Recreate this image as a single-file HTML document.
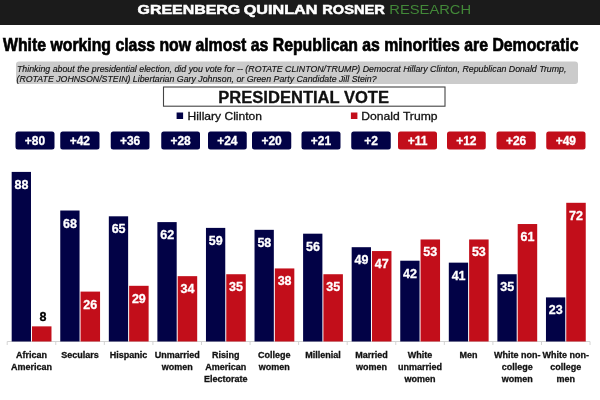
<!DOCTYPE html><html><head><meta charset="utf-8"><style>
html,body{margin:0;padding:0;background:#fff;width:600px;height:400px;overflow:hidden}
svg{display:block;will-change:transform}
text{font-family:"Liberation Sans",sans-serif}
</style></head><body>
<svg width="600" height="400" viewBox="0 0 600 400">
<rect x="0" y="0" width="600" height="25" fill="#1b1b1b"/>

<text x="137.6" y="14" font-size="12.3" font-weight="bold" fill="#ffffff" stroke="#ffffff" stroke-width="0.5" textLength="102.6" lengthAdjust="spacingAndGlyphs">GREENBERG</text>
<text x="243.8" y="14" font-size="12.3" font-weight="bold" fill="#ffffff" stroke="#ffffff" stroke-width="0.5" textLength="73.5" lengthAdjust="spacingAndGlyphs">QUINLAN</text>
<text x="322.3" y="14" font-size="12.3" font-weight="bold" fill="#ffffff" stroke="#ffffff" stroke-width="0.5" textLength="62.6" lengthAdjust="spacingAndGlyphs">ROSNER</text>
<text x="389.3" y="14" font-size="12.3" font-weight="normal" fill="#428838" stroke="#428838" stroke-width="0.0" textLength="81.8" lengthAdjust="spacingAndGlyphs">RESEARCH</text>
<text x="3" y="51" font-size="19" font-weight="bold" fill="#000" stroke="#000" stroke-width="0.7" textLength="575.5" lengthAdjust="spacingAndGlyphs">White working class now almost as Republican as minorities are Democratic</text>
<rect x="16" y="61.5" width="562" height="22.5" rx="3" fill="#cbcbcb"/>
<text x="17" y="71.5" font-size="9" font-style="italic" fill="#111" stroke="#111" stroke-width="0.15" textLength="549.4" lengthAdjust="spacingAndGlyphs">Thinking about the presidential election, did you vote for -- (ROTATE CLINTON/TRUMP) Democrat Hillary Clinton, Republican Donald Trump,</text>
<text x="16.5" y="82" font-size="9" font-style="italic" fill="#111" stroke="#111" stroke-width="0.15" textLength="360.1" lengthAdjust="spacingAndGlyphs">(ROTATE JOHNSON/STEIN) Libertarian Gary Johnson, or Green Party Candidate Jill Stein?</text>
<rect x="163.5" y="87" width="281.5" height="19.2" fill="#fff" stroke="#444" stroke-width="1.1"/>
<text x="218.3" y="102.5" font-size="16" font-weight="bold" fill="#111" stroke="#111" stroke-width="0.3" textLength="170.7" lengthAdjust="spacingAndGlyphs">PRESIDENTIAL VOTE</text>
<rect x="176.6" y="112.5" width="6.5" height="6.5" fill="#020246"/>
<text x="187.6" y="119.6" font-size="11.5" fill="#111" stroke="#111" stroke-width="0.3" textLength="74.4" lengthAdjust="spacingAndGlyphs">Hillary Clinton</text>
<rect x="350.9" y="112.5" width="6.5" height="6.5" fill="#c20e1a"/>
<text x="361.3" y="119.6" font-size="11.5" fill="#111" stroke="#111" stroke-width="0.3" textLength="76.2" lengthAdjust="spacingAndGlyphs">Donald Trump</text>
<rect x="15.5" y="131.5" width="39.00" height="18" rx="2.5" fill="#020246"/>
<text x="35.00" y="145" font-size="12" font-weight="bold" fill="#fff" stroke="#fff" stroke-width="0.3" text-anchor="middle">+80</text>
<rect x="60.25" y="131.5" width="39.25" height="18" rx="2.5" fill="#020246"/>
<text x="79.88" y="145" font-size="12" font-weight="bold" fill="#fff" stroke="#fff" stroke-width="0.3" text-anchor="middle">+42</text>
<rect x="110.75" y="131.5" width="38.75" height="18" rx="2.5" fill="#020246"/>
<text x="130.12" y="145" font-size="12" font-weight="bold" fill="#fff" stroke="#fff" stroke-width="0.3" text-anchor="middle">+36</text>
<rect x="161.25" y="131.5" width="38.75" height="18" rx="2.5" fill="#020246"/>
<text x="180.62" y="145" font-size="12" font-weight="bold" fill="#fff" stroke="#fff" stroke-width="0.3" text-anchor="middle">+28</text>
<rect x="208" y="131.5" width="38.75" height="18" rx="2.5" fill="#020246"/>
<text x="227.38" y="145" font-size="12" font-weight="bold" fill="#fff" stroke="#fff" stroke-width="0.3" text-anchor="middle">+24</text>
<rect x="252" y="131.5" width="39.25" height="18" rx="2.5" fill="#020246"/>
<text x="271.62" y="145" font-size="12" font-weight="bold" fill="#fff" stroke="#fff" stroke-width="0.3" text-anchor="middle">+20</text>
<rect x="301.5" y="131.5" width="39.00" height="18" rx="2.5" fill="#020246"/>
<text x="321.00" y="145" font-size="12" font-weight="bold" fill="#fff" stroke="#fff" stroke-width="0.3" text-anchor="middle">+21</text>
<rect x="351.25" y="131.5" width="39.50" height="18" rx="2.5" fill="#020246"/>
<text x="371.00" y="145" font-size="12" font-weight="bold" fill="#fff" stroke="#fff" stroke-width="0.3" text-anchor="middle">+2</text>
<rect x="398" y="131.5" width="39.00" height="18" rx="2.5" fill="#c20e1a"/>
<text x="417.50" y="145" font-size="12" font-weight="bold" fill="#fff" stroke="#fff" stroke-width="0.3" text-anchor="middle">+11</text>
<rect x="447" y="131.5" width="38.75" height="18" rx="2.5" fill="#c20e1a"/>
<text x="466.38" y="145" font-size="12" font-weight="bold" fill="#fff" stroke="#fff" stroke-width="0.3" text-anchor="middle">+12</text>
<rect x="496.5" y="131.5" width="39.25" height="18" rx="2.5" fill="#c20e1a"/>
<text x="516.12" y="145" font-size="12" font-weight="bold" fill="#fff" stroke="#fff" stroke-width="0.3" text-anchor="middle">+26</text>
<rect x="546.25" y="131.5" width="39.25" height="18" rx="2.5" fill="#c20e1a"/>
<text x="565.88" y="145" font-size="12" font-weight="bold" fill="#fff" stroke="#fff" stroke-width="0.3" text-anchor="middle">+49</text>
<line x1="7.2" y1="341.5" x2="590" y2="341.5" stroke="#d4d4d4" stroke-width="1"/>
<line x1="7.20" y1="341.5" x2="7.20" y2="345" stroke="#d4d4d4" stroke-width="1"/>
<line x1="55.77" y1="341.5" x2="55.77" y2="345" stroke="#d4d4d4" stroke-width="1"/>
<line x1="104.34" y1="341.5" x2="104.34" y2="345" stroke="#d4d4d4" stroke-width="1"/>
<line x1="152.91" y1="341.5" x2="152.91" y2="345" stroke="#d4d4d4" stroke-width="1"/>
<line x1="201.48" y1="341.5" x2="201.48" y2="345" stroke="#d4d4d4" stroke-width="1"/>
<line x1="250.05" y1="341.5" x2="250.05" y2="345" stroke="#d4d4d4" stroke-width="1"/>
<line x1="298.62" y1="341.5" x2="298.62" y2="345" stroke="#d4d4d4" stroke-width="1"/>
<line x1="347.19" y1="341.5" x2="347.19" y2="345" stroke="#d4d4d4" stroke-width="1"/>
<line x1="395.76" y1="341.5" x2="395.76" y2="345" stroke="#d4d4d4" stroke-width="1"/>
<line x1="444.33" y1="341.5" x2="444.33" y2="345" stroke="#d4d4d4" stroke-width="1"/>
<line x1="492.90" y1="341.5" x2="492.90" y2="345" stroke="#d4d4d4" stroke-width="1"/>
<line x1="541.47" y1="341.5" x2="541.47" y2="345" stroke="#d4d4d4" stroke-width="1"/>
<line x1="590.04" y1="341.5" x2="590.04" y2="345" stroke="#d4d4d4" stroke-width="1"/>
<rect x="11.68" y="171.91" width="19.3" height="169.59" fill="#020246"/>
<rect x="31.98" y="326.36" width="19.5" height="15.14" fill="#c20e1a"/>
<text x="21.48" y="188.91" font-size="12.5" font-weight="bold" fill="#fff" stroke="#fff" stroke-width="0.3" text-anchor="middle">88</text>
<text x="42.98" y="321.16" font-size="12.5" font-weight="bold" fill="#000" stroke="#000" stroke-width="0.3" text-anchor="middle">8</text>
<text x="31.48" y="357.80" font-size="9" font-weight="bold" fill="#111" stroke="#111" stroke-width="0.3" text-anchor="middle">African</text>
<text x="31.48" y="370.00" font-size="9" font-weight="bold" fill="#111" stroke="#111" stroke-width="0.3" text-anchor="middle">American</text>
<rect x="60.26" y="210.52" width="19.3" height="130.98" fill="#020246"/>
<rect x="80.56" y="291.60" width="19.5" height="49.90" fill="#c20e1a"/>
<text x="70.06" y="227.52" font-size="12.5" font-weight="bold" fill="#fff" stroke="#fff" stroke-width="0.3" text-anchor="middle">68</text>
<text x="90.31" y="308.60" font-size="12.5" font-weight="bold" fill="#fff" stroke="#fff" stroke-width="0.3" text-anchor="middle">26</text>
<text x="80.06" y="357.80" font-size="9" font-weight="bold" fill="#111" stroke="#111" stroke-width="0.3" text-anchor="middle">Seculars</text>
<rect x="108.83" y="216.31" width="19.3" height="125.19" fill="#020246"/>
<rect x="129.12" y="285.81" width="19.5" height="55.69" fill="#c20e1a"/>
<text x="118.62" y="233.31" font-size="12.5" font-weight="bold" fill="#fff" stroke="#fff" stroke-width="0.3" text-anchor="middle">65</text>
<text x="138.88" y="302.81" font-size="12.5" font-weight="bold" fill="#fff" stroke="#fff" stroke-width="0.3" text-anchor="middle">29</text>
<text x="128.62" y="357.80" font-size="9" font-weight="bold" fill="#111" stroke="#111" stroke-width="0.3" text-anchor="middle">Hispanic</text>
<rect x="157.39" y="222.10" width="19.3" height="119.40" fill="#020246"/>
<rect x="177.69" y="276.16" width="19.5" height="65.34" fill="#c20e1a"/>
<text x="167.19" y="239.10" font-size="12.5" font-weight="bold" fill="#fff" stroke="#fff" stroke-width="0.3" text-anchor="middle">62</text>
<text x="187.44" y="293.16" font-size="12.5" font-weight="bold" fill="#fff" stroke="#fff" stroke-width="0.3" text-anchor="middle">34</text>
<text x="177.19" y="357.80" font-size="9" font-weight="bold" fill="#111" stroke="#111" stroke-width="0.3" text-anchor="middle">Unmarried</text>
<text x="177.19" y="370.00" font-size="9" font-weight="bold" fill="#111" stroke="#111" stroke-width="0.3" text-anchor="middle">women</text>
<rect x="205.96" y="227.89" width="19.3" height="113.61" fill="#020246"/>
<rect x="226.26" y="274.23" width="19.5" height="67.27" fill="#c20e1a"/>
<text x="215.76" y="244.89" font-size="12.5" font-weight="bold" fill="#fff" stroke="#fff" stroke-width="0.3" text-anchor="middle">59</text>
<text x="236.01" y="291.23" font-size="12.5" font-weight="bold" fill="#fff" stroke="#fff" stroke-width="0.3" text-anchor="middle">35</text>
<text x="225.76" y="357.80" font-size="9" font-weight="bold" fill="#111" stroke="#111" stroke-width="0.3" text-anchor="middle">Rising</text>
<text x="225.76" y="370.00" font-size="9" font-weight="bold" fill="#111" stroke="#111" stroke-width="0.3" text-anchor="middle">American</text>
<text x="225.76" y="382.20" font-size="9" font-weight="bold" fill="#111" stroke="#111" stroke-width="0.3" text-anchor="middle">Electorate</text>
<rect x="254.53" y="229.83" width="19.3" height="111.67" fill="#020246"/>
<rect x="274.83" y="268.44" width="19.5" height="73.06" fill="#c20e1a"/>
<text x="264.33" y="246.83" font-size="12.5" font-weight="bold" fill="#fff" stroke="#fff" stroke-width="0.3" text-anchor="middle">58</text>
<text x="284.58" y="285.44" font-size="12.5" font-weight="bold" fill="#fff" stroke="#fff" stroke-width="0.3" text-anchor="middle">38</text>
<text x="274.33" y="357.80" font-size="9" font-weight="bold" fill="#111" stroke="#111" stroke-width="0.3" text-anchor="middle">College</text>
<text x="274.33" y="370.00" font-size="9" font-weight="bold" fill="#111" stroke="#111" stroke-width="0.3" text-anchor="middle">women</text>
<rect x="303.10" y="233.69" width="19.3" height="107.81" fill="#020246"/>
<rect x="323.40" y="274.23" width="19.5" height="67.27" fill="#c20e1a"/>
<text x="312.90" y="250.69" font-size="12.5" font-weight="bold" fill="#fff" stroke="#fff" stroke-width="0.3" text-anchor="middle">56</text>
<text x="333.15" y="291.23" font-size="12.5" font-weight="bold" fill="#fff" stroke="#fff" stroke-width="0.3" text-anchor="middle">35</text>
<text x="322.90" y="357.80" font-size="9" font-weight="bold" fill="#111" stroke="#111" stroke-width="0.3" text-anchor="middle">Millenial</text>
<rect x="351.67" y="247.20" width="19.3" height="94.30" fill="#020246"/>
<rect x="371.97" y="251.06" width="19.5" height="90.44" fill="#c20e1a"/>
<text x="361.47" y="264.20" font-size="12.5" font-weight="bold" fill="#fff" stroke="#fff" stroke-width="0.3" text-anchor="middle">49</text>
<text x="381.72" y="268.06" font-size="12.5" font-weight="bold" fill="#fff" stroke="#fff" stroke-width="0.3" text-anchor="middle">47</text>
<text x="371.47" y="357.80" font-size="9" font-weight="bold" fill="#111" stroke="#111" stroke-width="0.3" text-anchor="middle">Married</text>
<text x="371.47" y="370.00" font-size="9" font-weight="bold" fill="#111" stroke="#111" stroke-width="0.3" text-anchor="middle">women</text>
<rect x="400.25" y="260.71" width="19.3" height="80.79" fill="#020246"/>
<rect x="420.55" y="239.48" width="19.5" height="102.02" fill="#c20e1a"/>
<text x="410.05" y="277.71" font-size="12.5" font-weight="bold" fill="#fff" stroke="#fff" stroke-width="0.3" text-anchor="middle">42</text>
<text x="430.30" y="256.48" font-size="12.5" font-weight="bold" fill="#fff" stroke="#fff" stroke-width="0.3" text-anchor="middle">53</text>
<text x="420.05" y="357.80" font-size="9" font-weight="bold" fill="#111" stroke="#111" stroke-width="0.3" text-anchor="middle">White</text>
<text x="420.05" y="370.00" font-size="9" font-weight="bold" fill="#111" stroke="#111" stroke-width="0.3" text-anchor="middle">unmarried</text>
<text x="420.05" y="382.20" font-size="9" font-weight="bold" fill="#111" stroke="#111" stroke-width="0.3" text-anchor="middle">women</text>
<rect x="448.81" y="262.65" width="19.3" height="78.85" fill="#020246"/>
<rect x="469.12" y="239.48" width="19.5" height="102.02" fill="#c20e1a"/>
<text x="458.62" y="279.65" font-size="12.5" font-weight="bold" fill="#fff" stroke="#fff" stroke-width="0.3" text-anchor="middle">41</text>
<text x="478.87" y="256.48" font-size="12.5" font-weight="bold" fill="#fff" stroke="#fff" stroke-width="0.3" text-anchor="middle">53</text>
<text x="468.62" y="357.80" font-size="9" font-weight="bold" fill="#111" stroke="#111" stroke-width="0.3" text-anchor="middle">Men</text>
<rect x="497.39" y="274.23" width="19.3" height="67.27" fill="#020246"/>
<rect x="517.69" y="224.03" width="19.5" height="117.47" fill="#c20e1a"/>
<text x="507.19" y="291.23" font-size="12.5" font-weight="bold" fill="#fff" stroke="#fff" stroke-width="0.3" text-anchor="middle">35</text>
<text x="527.44" y="241.03" font-size="12.5" font-weight="bold" fill="#fff" stroke="#fff" stroke-width="0.3" text-anchor="middle">61</text>
<text x="517.19" y="357.80" font-size="9" font-weight="bold" fill="#111" stroke="#111" stroke-width="0.3" text-anchor="middle">White non-</text>
<text x="517.19" y="370.00" font-size="9" font-weight="bold" fill="#111" stroke="#111" stroke-width="0.3" text-anchor="middle">college</text>
<text x="517.19" y="382.20" font-size="9" font-weight="bold" fill="#111" stroke="#111" stroke-width="0.3" text-anchor="middle">women</text>
<rect x="545.96" y="297.40" width="19.3" height="44.10" fill="#020246"/>
<rect x="566.25" y="202.80" width="19.5" height="138.70" fill="#c20e1a"/>
<text x="555.75" y="314.40" font-size="12.5" font-weight="bold" fill="#fff" stroke="#fff" stroke-width="0.3" text-anchor="middle">23</text>
<text x="576.00" y="219.80" font-size="12.5" font-weight="bold" fill="#fff" stroke="#fff" stroke-width="0.3" text-anchor="middle">72</text>
<text x="565.75" y="357.80" font-size="9" font-weight="bold" fill="#111" stroke="#111" stroke-width="0.3" text-anchor="middle">White non-</text>
<text x="565.75" y="370.00" font-size="9" font-weight="bold" fill="#111" stroke="#111" stroke-width="0.3" text-anchor="middle">college</text>
<text x="565.75" y="382.20" font-size="9" font-weight="bold" fill="#111" stroke="#111" stroke-width="0.3" text-anchor="middle">men</text>
</svg></body></html>
